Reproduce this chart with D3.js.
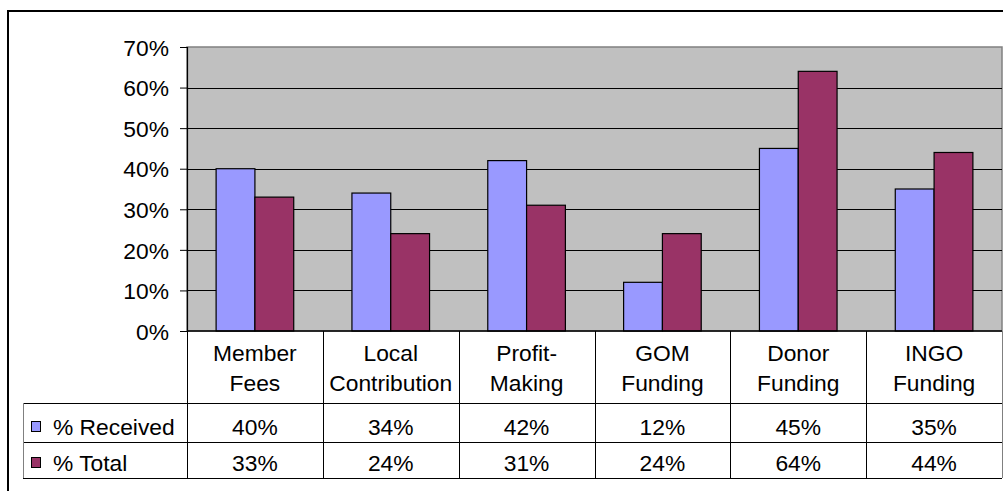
<!DOCTYPE html>
<html>
<head>
<meta charset="utf-8">
<script src="https://cdn.jsdelivr.net/npm/d3@7"></script>
<style>
  html, body { margin: 0; padding: 0; background: #fff; }
  svg { display: block; font-family: "Liberation Sans", Arial, sans-serif; }
</style>
</head>
<body>
<svg id="chart" width="1003" height="491"></svg>
<script>
// ---- data ----
const categories = ["Member Fees", "Local Contribution", "Profit-Making", "GOM Funding", "Donor Funding", "INGO Funding"];
const categoryLines = [["Member", "Fees"], ["Local", "Contribution"], ["Profit-", "Making"], ["GOM", "Funding"], ["Donor", "Funding"], ["INGO", "Funding"]];
const seriesNames = ["% Received", "% Total"];
const received = [0.40, 0.34, 0.42, 0.12, 0.45, 0.35];
const total = [0.33, 0.24, 0.31, 0.24, 0.64, 0.44];
const yTicks = [0, 0.1, 0.2, 0.3, 0.4, 0.5, 0.6, 0.7];
const colors = ["#9999FF", "#993366"];

const seriesValues = [received, total];

const svg = d3.select("#chart");
const fontSize = 22.8;

// layout
const plotL = 187, plotR = 1002, plotT = 47, plotB = 331;
const row0 = 403, row1 = 442, row2 = 478;
const legendL = 23;

// outer frame
svg.append("rect").attr("x", 8).attr("y", 11).attr("width", 1000).attr("height", 500)
  .attr("fill", "#fff").attr("stroke", "#000").attr("stroke-width", 2);

const x = d3.scaleBand().domain(categories).range([plotL, plotR]).padding(0);
const xs = d3.scaleBand().domain(seriesNames).range([0, x.bandwidth()]).paddingInner(0).paddingOuter(0.75);
const y = d3.scaleLinear().domain([0, 0.7]).range([plotB, plotT]);

// plot background
svg.append("rect").attr("x", plotL).attr("y", plotT).attr("width", plotR - plotL).attr("height", plotB - plotT)
  .attr("fill", "#C0C0C0").attr("stroke", "#808080").attr("stroke-width", 1.5);

// gridlines
svg.append("g").selectAll("line").data(yTicks.filter(t => t > 0 && t < 0.7)).join("line")
  .attr("x1", plotL).attr("x2", plotR)
  .attr("y1", d => Math.round(y(d)) + 0.5).attr("y2", d => Math.round(y(d)) + 0.5)
  .attr("stroke", "#000").attr("stroke-width", 1);

// bars
const groups = svg.append("g").selectAll("g").data(categories).join("g")
  .attr("transform", d => `translate(${x(d)},0)`);
groups.selectAll("rect").data((d, i) => seriesNames.map((s, j) => ({ s, j, v: seriesValues[j][i] }))).join("rect")
  .attr("x", d => xs(d.s))
  .attr("width", xs.bandwidth())
  .attr("y", d => y(d.v))
  .attr("height", d => y(0) - y(d.v))
  .attr("fill", d => colors[d.j])
  .attr("stroke", "#000").attr("stroke-width", 1.2);

// y axis
const yAxis = d3.axisLeft(y).tickValues(yTicks).tickFormat(d3.format(".0%")).tickSize(7).tickPadding(11);
const gy = svg.append("g").attr("transform", `translate(${plotL},0)`).call(yAxis);
gy.select(".domain").attr("stroke", "#000").attr("stroke-width", 1.2);
gy.selectAll(".tick line").attr("stroke", "#000");
gy.selectAll(".tick text").attr("font-size", fontSize).attr("fill", "#000")
  .attr("font-family", "Liberation Sans, Arial, sans-serif").attr("dy", "0.36em");

// x axis baseline
svg.append("line").attr("x1", plotL).attr("x2", plotR).attr("y1", plotB).attr("y2", plotB)
  .attr("stroke", "#000").attr("stroke-width", 1.5);

// data table
const table = svg.append("g");
const boundaries = categories.map(c => x(c)).concat([plotR]);
table.selectAll("line.v").data(boundaries).join("line").attr("class", "v")
  .attr("x1", d => Math.round(d) + 0.5).attr("x2", d => Math.round(d) + 0.5)
  .attr("y1", plotB).attr("y2", row2)
  .attr("stroke", (d, i) => i === boundaries.length - 1 ? "#808080" : "#000");
table.selectAll("line.h").data([row0, row1, row2]).join("line").attr("class", "h")
  .attr("x1", legendL).attr("x2", plotR)
  .attr("y1", d => d + 0.5).attr("y2", d => d + 0.5)
  .attr("stroke", "#000");
table.append("line").attr("x1", legendL + 0.5).attr("x2", legendL + 0.5).attr("y1", row0).attr("y2", row2)
  .attr("stroke", "#808080");

// category labels
categories.forEach((c, i) => {
  const cx = x(c) + x.bandwidth() / 2;
  categoryLines[i].forEach((ln, k) => {
    table.append("text").attr("x", cx).attr("y", 361 + k * 30)
      .attr("text-anchor", "middle").attr("font-size", fontSize).attr("fill", "#000").text(ln);
  });
});

// value rows
const rowBase = [435, 471];
seriesNames.forEach((s, j) => {
  // legend key
  table.append("rect").attr("x", 31.5).attr("y", rowBase[j] - 13.5).attr("width", 9).attr("height", 10)
    .attr("fill", colors[j]).attr("stroke", "#000").attr("stroke-width", 1);
  table.append("text").attr("x", 53).attr("y", rowBase[j]).attr("font-size", fontSize).attr("fill", "#000").text(s);
  categories.forEach((c, i) => {
    table.append("text").attr("x", x(c) + x.bandwidth() / 2).attr("y", rowBase[j])
      .attr("text-anchor", "middle").attr("font-size", fontSize).attr("fill", "#000")
      .text(d3.format(".0%")(seriesValues[j][i]));
  });
});
</script>
</body>
</html>
